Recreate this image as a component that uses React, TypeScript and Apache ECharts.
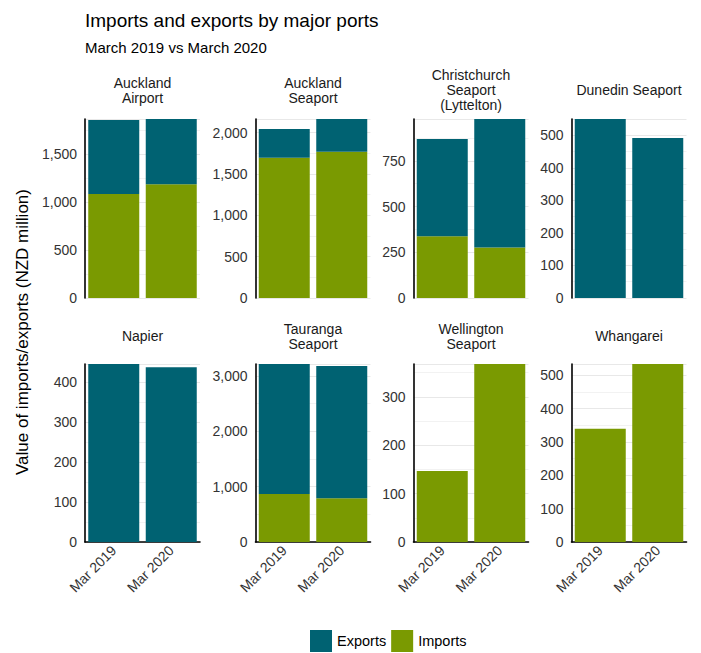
import React, { useEffect, useRef } from "react";
import * as echarts from "echarts";

const periods = ["Mar 2019", "Mar 2020"];
const portLabels = [
  "Auckland\nAirport",
  "Auckland\nSeaport",
  "Christchurch\nSeaport\n(Lyttelton)",
  "Dunedin Seaport",
  "Napier",
  "Tauranga\nSeaport",
  "Wellington\nSeaport",
  "Whangarei",
];
// NZD million, [Mar 2019, Mar 2020]
const importsData = [
  [1085, 1189],
  [1697, 1770],
  [338, 276],
  [0, 0],
  [0, 0],
  [869, 791],
  [147, 368],
  [340, 534],
];
const exportsData = [
  [773, 680],
  [348, 396],
  [531, 703],
  [550, 492],
  [445, 437],
  [2348, 2390],
  [0, 0],
  [0, 0],
];
const majorIntervals = [500, 500, 250, 100, 100, 1000, 100, 100];

const TEAL = "#006272";
const GREEN = "#7a9a01";
const FONT = "'Liberation Sans', Arial, Helvetica, sans-serif";

const colLefts = [85, 255.5, 413.5, 571.5];
const PANEL_W = 115;
const rowTops = [119, 364];
const rowHeights = [179, 178];
const stripCenters = [90, 336];

export default function App() {
  const ref = useRef<HTMLDivElement>(null);
  useEffect(() => {
    if (!ref.current) return;
    const chart = echarts.init(ref.current, null, { renderer: "svg" });
    const grids: any[] = [];
    const xAxes: any[] = [];
    const yAxes: any[] = [];
    const series: any[] = [];
    const graphics: any[] = [];

    portLabels.forEach((label, i) => {
      const row = Math.floor(i / 4);
      const col = i % 4;
      const left = colLefts[col];
      const top = rowTops[row];
      grids.push({ left, top, width: PANEL_W, height: rowHeights[row], containLabel: false });
      const totals = importsData[i].map((v, k) => v + exportsData[i][k]);
      const maxVal = Math.max(...totals);
      xAxes.push({
        type: "category",
        gridIndex: i,
        data: periods,
        axisTick: { show: false },
        axisLine: { show: row === 1, lineStyle: { color: "#000", width: 1.6 } },
        axisLabel: {
          show: row === 1,
          rotate: 45,
          fontSize: 14,
          color: "#333",
          fontFamily: FONT,
          margin: 6,
        },
        splitLine: { show: false },
      });
      yAxes.push({
        type: "value",
        gridIndex: i,
        min: 0,
        max: maxVal,
        interval: majorIntervals[i],
        axisLine: { show: true, lineStyle: { color: "#000", width: 1.6 } },
        axisTick: { show: false },
        axisLabel: {
          fontSize: 14,
          color: "#333",
          fontFamily: FONT,
          margin: 8,
          showMaxLabel: false,
          formatter: (v: number) => v.toLocaleString("en-US"),
        },
        splitLine: { show: true, lineStyle: { color: "#e8e8e8", width: 1 } },
        minorTick: { show: false, splitNumber: 2 },
        minorSplitLine: { show: true, lineStyle: { color: "#f2f2f2", width: 1 } },
      });
      series.push({
        name: "Imports",
        type: "bar",
        stack: "s" + i,
        xAxisIndex: i,
        yAxisIndex: i,
        data: importsData[i],
        barWidth: 51,
        itemStyle: { color: GREEN },
      });
      series.push({
        name: "Exports",
        type: "bar",
        stack: "s" + i,
        xAxisIndex: i,
        yAxisIndex: i,
        data: exportsData[i],
        barWidth: 51,
        itemStyle: { color: TEAL },
      });
      graphics.push({
        type: "text",
        x: left + PANEL_W / 2,
        y: stripCenters[row],
        style: {
          text: label,
          fontSize: 14,
          lineHeight: 15,
          fontFamily: FONT,
          fill: "#1a1a1a",
          textAlign: "center",
          textVerticalAlign: "middle",
        },
      });
    });

    graphics.push({
      type: "text",
      x: 85,
      y: 20,
      style: {
        text: "Imports and exports by major ports",
        fontSize: 19,
        fontFamily: FONT,
        fill: "#000",
        textAlign: "left",
        textVerticalAlign: "middle",
      },
    });
    graphics.push({
      type: "text",
      x: 85,
      y: 47,
      style: {
        text: "March 2019 vs March 2020",
        fontSize: 15,
        fontFamily: FONT,
        fill: "#000",
        textAlign: "left",
        textVerticalAlign: "middle",
      },
    });
    graphics.push({
      type: "text",
      x: 22,
      y: 332,
      rotation: Math.PI / 2,
      style: {
        text: "Value of imports/exports (NZD million)",
        fontSize: 17,
        fontFamily: FONT,
        fill: "#000",
        textAlign: "center",
        textVerticalAlign: "middle",
      },
    });

    chart.setOption({
      animation: false,
      backgroundColor: "#fff",
      grid: grids,
      xAxis: xAxes,
      yAxis: yAxes,
      series,
      legend: {
        data: ["Exports", "Imports"],
        left: 310,
        top: 630,
        padding: 0,
        icon: "rect",
        itemWidth: 22,
        itemHeight: 22,
        itemGap: 5,
        textStyle: { fontSize: 14.5, fontFamily: FONT, color: "#000" },
      },
      graphic: graphics,
    });
    return () => chart.dispose();
  }, []);
  return (
    <div
      ref={ref}
      style={{ position: "fixed", left: 0, top: 0, width: 701, height: 653, background: "#fff" }}
    />
  );
}
